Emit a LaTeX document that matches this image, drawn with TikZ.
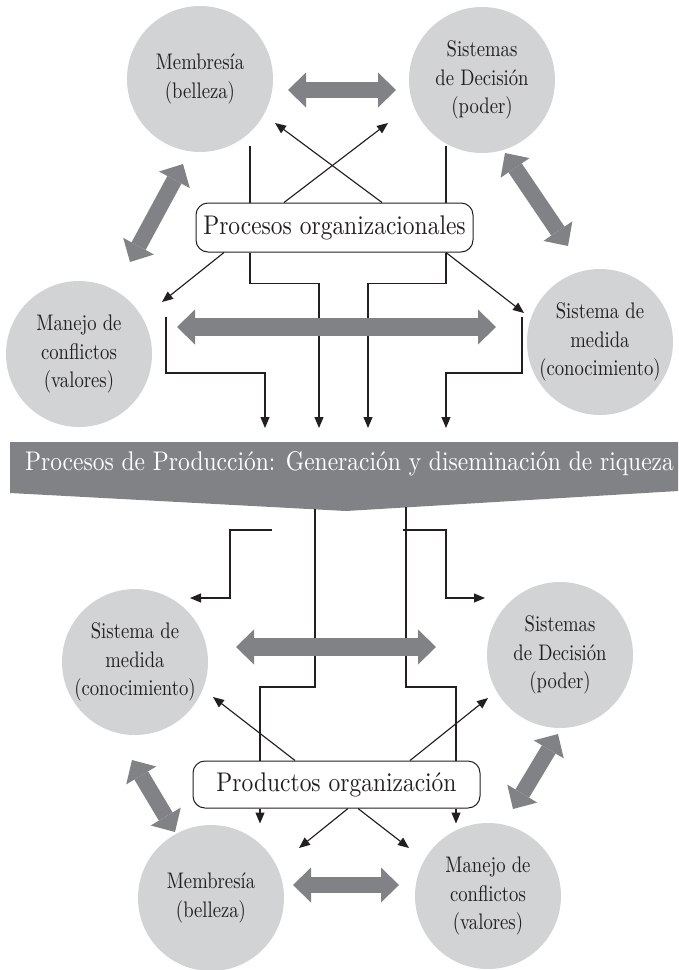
\documentclass[tikz,border=0pt]{standalone}
\usepackage{fontspec}
\setmainfont{lmroman10-regular.otf}[FakeStretch=0.87]
\newfontfamily\bubblefont{lmroman10-regular.otf}[FakeStretch=0.83]
\usetikzlibrary{arrows.meta,calc}
\definecolor{bubblegray}{HTML}{D1D3D4}
\definecolor{bandgray}{HTML}{808285}
\definecolor{ink}{HTML}{231F20}
\begin{document}
\begin{tikzpicture}[x=1pt,y=-1pt,
  btext/.style={font=\bubblefont\fontsize{22.5}{28.5}\selectfont,align=center,text=ink},
  bubble/.style={circle,fill=bubblegray,minimum size=146pt,inner sep=0pt,
    label={[btext]center:#1}},
  procbox/.style={draw=ink,fill=white,rounded corners=12pt,line width=1pt,
    inner sep=0pt,font=\fontsize{27}{32}\selectfont,text=ink},
  plain/.style={draw=ink,line width=1.15pt},
  flow/.style={plain,-{Triangle[length=11pt,width=9pt]}},
  link/.style={draw=bandgray,line width=#1,
    {Triangle[length=18pt,width=35pt,line width=0pt]}-{Triangle[length=18pt,width=35pt,line width=0pt]}},
  link/.default=16pt,
]
\useasboundingbox (0,0) rectangle (678,970);

% ---------- upper half ----------
\node[bubble={Membresía\\(belleza)}] (memT) at (200,79) {};
\node[bubble={Sistemas\\de Decisión\\(poder)}] (decT) at (482,80) {};
\node[bubble={Manejo de\\conflictos\\(valores)}] (conT) at (79,354) {};
\node[bubble={Sistema de\\medida\\(conocimiento)}] (medT) at (600,342) {};

\node[procbox,minimum width=277pt,minimum height=49pt] (procOrg) at (334.5,227.5)
  {Procesos organizacionales};

% free ends of the upper connectors
\coordinate (mT) at (250,146);
\coordinate (dT) at (446,146);
\coordinate (xL) at (275,123);
\coordinate (xR) at (388,123);
\coordinate (dl) at (162,302);
\coordinate (dr) at (524,313);
\coordinate (bl) at (166,317);
\coordinate (br) at (522,317);
\coordinate (t1) at (265,428);
\coordinate (t2) at (319,428);
\coordinate (t3) at (368,428);
\coordinate (t4) at (446,428);

\draw[plain] (mT) -- (mT |- procOrg.north);
\draw[plain] (dT) -- (dT |- procOrg.north);
\draw[flow] ([xshift=-50.5pt]procOrg.north) -- (xR);
\draw[flow] ([xshift=47.5pt]procOrg.north) -- (xL);
\draw[flow] ([xshift=-110.5pt]procOrg.south) -- (dl);
\draw[flow] (procOrg.south -| dT) -- (dr);
\draw[flow] (procOrg.south -| mT) -- ++(0,31) -| (t2);
\draw[flow] (procOrg.south -| dT) -- ++(0,31) -| (t3);
\draw[flow] (bl) -- ++(0,56) -| (t1);
\draw[flow] (br) -- ++(0,56) -| (t4);

% thick two-way links, upper half
\coordinate (lk1a) at (288,90);  \coordinate (lk1b) at (396,90);
\coordinate (lk2a) at (130,262); \coordinate (lk2b) at (183,164);
\coordinate (lk3a) at (505,153); \coordinate (lk3b) at (568,246);
\coordinate (lk4a) at (177,327); \coordinate (lk4b) at (496,327);
\draw[link] (lk1a) -- (lk1b);
\draw[link] (lk2a) -- (lk2b);
\draw[link] (lk3a) -- (lk3b);
\draw[link=18pt] (lk4a) -- (lk4b);

% ---------- production band ----------
\fill[bandgray] (10,442) -- (678,442) -- (678,491) -- (346,511) -- (10,493) -- cycle;
\node[anchor=base,font=\fontsize{27}{32}\selectfont,text=white,inner sep=0pt] (prod)
  at (349.5,470) {Procesos de Producción: Generación y diseminación de riqueza};

% ---------- lower half ----------
\node[bubble={Sistema de\\medida\\(conocimiento)}] (medB) at (135,662) {};
\node[bubble={Sistemas\\de Decisión\\(poder)}] (decB) at (560,655) {};
\node[bubble={Membresía\\(belleza)}] (memB) at (211,898) {};
\node[bubble={Manejo de\\conflictos\\(valores)}] (conB) at (488,896) {};

\node[procbox,minimum width=287pt,minimum height=47pt] (prodOrg) at (336.5,784.5)
  {Productos organización};

\coordinate (bA) at (315,509);
\coordinate (bB) at (406,507);
\coordinate (kA) at (260,687);
\coordinate (kB) at (456,687);
\coordinate (cA) at (272,530);
\coordinate (cB) at (403,530);
\coordinate (eA) at (190,598);
\coordinate (eB) at (485,598);
\coordinate (gA) at (213,697);
\coordinate (gB) at (488,698);
\coordinate (hA) at (299,848);
\coordinate (hB) at (409,848);

\draw[plain] (bA) |- (kA) -- (kA |- prodOrg.north);
\draw[plain] (bB) |- (kB) -- (kB |- prodOrg.north);
\draw[flow] (kA |- prodOrg.south) -- ++(0,15);
\draw[flow] (kB |- prodOrg.south) -- ++(0,15);
\draw[flow] (cA) -- ++(-42,0) |- (eA);
\draw[flow] (cB) -- ++(43,0) |- (eB);
\draw[flow] ([xshift=-41.5pt]prodOrg.north) -- (gA);
\draw[flow] ([xshift=73.5pt]prodOrg.north) -- (gB);
\draw[flow] ([xshift=11.5pt]prodOrg.south) -- (hA);
\draw[flow] ([xshift=21.5pt]prodOrg.south) -- (hB);

% thick two-way links, lower half
\coordinate (lk5a) at (236,647); \coordinate (lk5b) at (436,647);
\coordinate (lk6a) at (132,760); \coordinate (lk6b) at (175,832);
\coordinate (lk7a) at (513,809); \coordinate (lk7b) at (558,734);
\coordinate (lk8a) at (293,885); \coordinate (lk8b) at (399,885);
\draw[link=18pt] (lk5a) -- (lk5b);
\draw[link] (lk6a) -- (lk6b);
\draw[link] (lk7a) -- (lk7b);
\draw[link] (lk8a) -- (lk8b);
\end{tikzpicture}
\end{document}
